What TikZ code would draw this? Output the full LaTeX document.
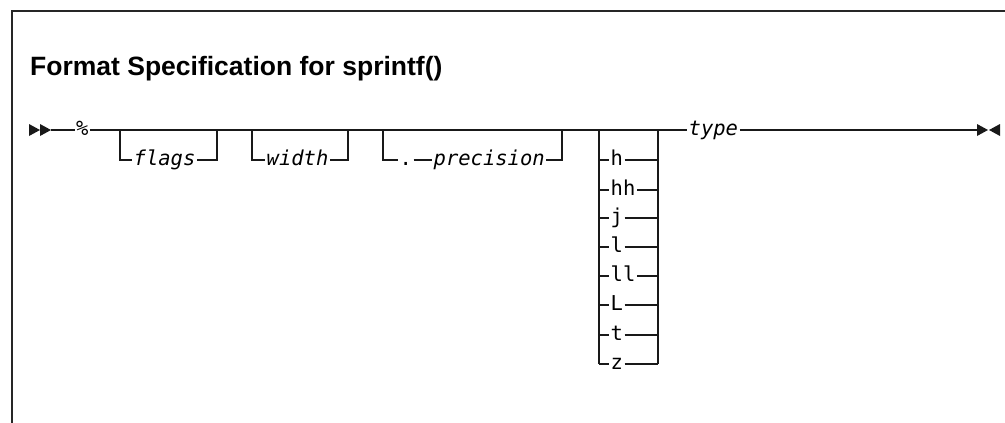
\documentclass[tikz,border=0pt]{standalone}
\usepackage{fontspec}
\setmainfont{Liberation Sans}
\newfontfamily\monofam{DejaVu Sans Mono}
\begin{document}
\monofam\fontsize{20.5}{20.5}\selectfont
\begin{tikzpicture}[x=1pt,y=-1pt,
  rr/.style={line width=1.3pt,draw=black!90},
  lbl/.style={inner xsep=1.5pt,inner ysep=0pt,anchor=mid west,font=\monofam\fontsize{20.5}{20.5}\selectfont},
  ilbl/.style={lbl,font=\monofam\itshape\fontsize{20.5}{20.5}\selectfont},
  tip/.style={fill=black!90,draw=none}]
\useasboundingbox (0,0) rectangle (1005,423);
% frame
\draw[line width=1.6pt,black!85] (12,423) -- (12,11) -- (1005,11);
% title
\node[anchor=base west,inner sep=0pt,font=\rmfamily\bfseries\fontsize{26.5}{26.5}\selectfont] (title) at (30,75) {Format Specification for sprintf()};
% start / end tips
\fill[tip] (29,124) -- (40,130) -- (29,136) -- cycle;
\fill[tip] (40,124) -- (51,130) -- (40,136) -- cycle;
\fill[tip] (977,124) -- (988,130) -- (977,136) -- cycle;
\fill[tip] (1000,124) -- (989,130) -- (1000,136) -- cycle;
\coordinate (s) at (51,130);
\coordinate (e) at (977,130);
% main labels
\node[lbl,inner xsep=1pt] (pct) at (75,130) {\%};
\node[ilbl] (ty) at (687,130) {type};
\draw[rr] (s) -- (pct.west |- s);
\draw[rr] (pct.east |- s) -- (ty.mid west);
\draw[rr] (ty.mid east) -- (e);
% flags
\coordinate (f1) at (120,130); \coordinate (f2) at (217,130);
\node[ilbl] (flags) at (132,160) {flags};
\draw[rr] (f1) |- (flags.mid west);
\draw[rr] (flags.mid east) -| (f2);
% width
\coordinate (w1) at (252,130); \coordinate (w2) at (348,130);
\node[ilbl] (width) at (265,160) {width};
\draw[rr] (w1) |- (width.mid west);
\draw[rr] (width.mid east) -| (w2);
% precision
\coordinate (p1) at (383,130); \coordinate (p2) at (562,130);
\node[lbl] (dot) at (398,160) {.};
\node[ilbl] (prec) at (432,160) {precision};
\draw[rr] (p1) |- (dot.mid west);
\draw[rr] (dot.mid east) -- (prec.mid west);
\draw[rr] (prec.mid east) -| (p2);
% length modifiers
\coordinate (l1) at (599,130); \coordinate (l2) at (658,130);
\foreach \n/\t/\y in {mh/h/160, mhh/hh/190, mj/j/218, ml/l/247, mll/ll/276, mL/L/305, mt/t/335, mz/z/364}{
  \node[lbl] (\n) at (609,\y) {\t};
  \draw[rr] (l1 |- \n.mid west) -- (\n.mid west);
  \draw[rr] (\n.mid east) -- (l2 |- \n.mid east);
}
\draw[rr] (l1) -- (l1 |- mz.mid west);
\draw[rr] (l2) -- (l2 |- mz.mid east);
\end{tikzpicture}
\end{document}
